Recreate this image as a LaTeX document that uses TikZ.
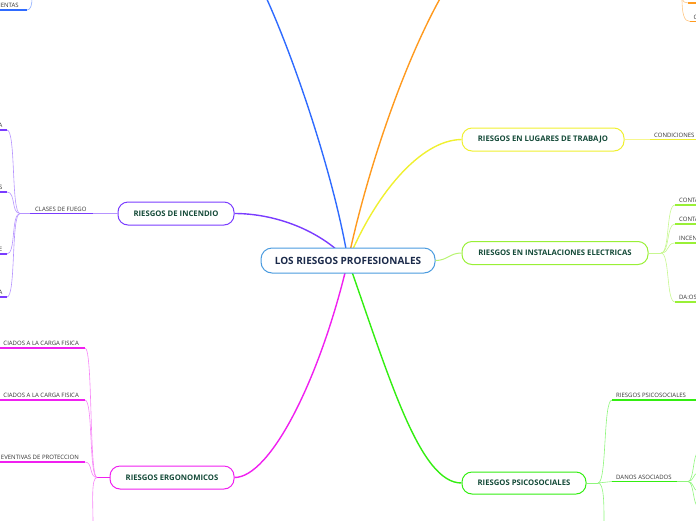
\documentclass[tikz,border=0pt]{standalone}
\usepackage{fontspec}
\setmainfont{Open Sans}
\usetikzlibrary{backgrounds}

\definecolor{navytext}{HTML}{1B2A4A}
\definecolor{branchtext}{HTML}{144A38}
\definecolor{labelgray}{HTML}{333333}
\definecolor{centerline}{HTML}{4A9BDF}
\definecolor{mmblue}{HTML}{2F6BFF}
\definecolor{mmorange}{HTML}{FF9A1F}
\definecolor{mmyellow}{HTML}{F0F030}
\definecolor{mmlime}{HTML}{99F036}
\definecolor{mmgreen}{HTML}{33EE11}
\definecolor{mmmagenta}{HTML}{F020F0}
\definecolor{mmpurple}{HTML}{7A3CFF}

\tikzset{
  mainbox/.style={draw=centerline, line width=1pt, fill=white, rounded corners=11pt,
    text=navytext, font=\bfseries\fontsize{10}{12}\selectfont, inner sep=0pt},
  branchbox/.style={draw=#1, line width=1pt, fill=white, rounded corners=10pt,
    text=branchtext, font=\bfseries\fontsize{7.7}{9}\selectfont, minimum height=23pt, inner sep=0pt},
  leaf/.style={text=labelgray, font=\fontsize{6}{7}\selectfont, inner sep=0pt},
  trunk/.style={draw=#1, line width=1.4pt},
  twig/.style={draw=#1!55, line width=0.6pt},
  underline/.style={draw=#1, line width=1.8pt},
}

\begin{document}
\begin{tikzpicture}[x=1pt,y=-1pt]
  \useasboundingbox (0,0) rectangle (696,520);
  \clip (0,0) rectangle (696,520);

  % Central topic
  \node[mainbox, minimum width=174pt, minimum height=25pt] (central) at (348,260.5) {LOS RIESGOS PROFESIONALES};

  % Main topics
  \node[branchbox=mmyellow, minimum width=162pt] (lugares) at (543,139.5) {RIESGOS EN LUGARES DE TRABAJO};
  \node[branchbox=mmlime, minimum width=186pt] (electricas) at (555,253) {RIESGOS EN INSTALACIONES ELECTRICAS};
  \node[branchbox=mmgreen, minimum width=124pt, minimum height=22pt] (psico) at (524,483) {RIESGOS PSICOSOCIALES};
  \node[branchbox=mmmagenta, minimum width=124pt] (ergo) at (172,477.5) {RIESGOS ERGONOMICOS};
  \node[branchbox=mmpurple, minimum width=116pt] (incendio) at (176,213.5) {RIESGOS DE INCENDIO};

  % Off-page ends
  \coordinate (blueend) at (265,-5);
  \coordinate (orangeend) at (442,-5);

  % Trunks from the central topic
  \begin{scope}[on background layer]
    \draw[trunk=mmblue] (central.center) .. controls (335,180) and (295,60) .. (blueend);
    \draw[trunk=mmorange] (central.center) .. controls (365,180) and (400,70) .. (orangeend);
    \draw[trunk=mmyellow] (central.center) .. controls (375,195) and (420,140) .. (lugares.west);
    \draw[trunk=mmgreen] (central.center) .. controls (390,380) and (420,483) .. (psico.west);
    \draw[trunk=mmmagenta] (central.center) .. controls (320,380) and (270,477.5) .. (ergo.east);
    \draw[trunk=mmpurple] (central.center) .. controls (320,230) and (275,213.5) .. (incendio.east);
  \end{scope}
  \draw[trunk=mmlime!70, line width=1pt] (central.east) .. controls +(12,0) and +(-12,0) .. (electricas.west);

  % Blue, top left
  \coordinate (bluetop) at (32,-2);
  \coordinate (blueleaf) at (27,10);
  \draw[twig=mmblue] (blueleaf) .. controls +(4,0) and +(0,6) .. (bluetop);
  \draw[underline=mmblue] (blueleaf) -- (-2,10);
  \node[leaf, anchor=south west] (ientas) at (-1,8) {IENTAS};

  % Orange, top right
  \coordinate (orangetop) at (682,-2);
  \coordinate (orleaf1) at (688,3);
  \coordinate (orleaf2) at (690,21.5);
  \draw[twig=mmorange] (orangetop) .. controls +(1,4) and +(-3,0) .. (orleaf1);
  \draw[twig=mmorange] (orangetop) .. controls +(0,16) and +(-6,0) .. (orleaf2);
  \draw[underline=mmorange] (orleaf1) -- (698,3);
  \draw[underline=mmorange] (orleaf2) -- (698,21.5);
  \node[leaf, anchor=south west] (orlabel) at (693.5,19.5) {C};

  % Lugares de trabajo
  \coordinate (lugleaf) at (650,139.5);
  \draw[twig=mmyellow] (lugares.east) -- (lugleaf);
  \draw[underline=mmyellow] (lugleaf) -- (698,139.5);
  \node[leaf, anchor=south west] (condiciones) at (654,137.5) {CONDICIONES};

  % Instalaciones electricas
  \coordinate (elecjn) at (661,253);
  \draw[twig=mmlime, line width=1pt] (electricas.east) -- (elecjn);
  \foreach \y/\t [count=\i] in {205/CONTA,224/CONTA,243/INCEN,302/DA:OS} {
    \coordinate (elec\i) at (675,\y);
    \draw[twig=mmlime] (elecjn) .. controls +(9,0) and +(-9,0) .. (elec\i);
    \draw[underline=mmlime] (elec\i) -- (698,\y);
    \node[leaf, anchor=south west] (eleclabel\i) at (679,\y-2) {\t};
  }

  % Psicosociales
  \coordinate (psicojn) at (598,483);
  \coordinate (psicoleaf1) at (612,400);
  \coordinate (psicoleaf2) at (612,481.5);
  \coordinate (psicobottom) at (604,523);
  \coordinate (danosjn) at (688,481.5);
  \draw[twig=mmgreen, line width=1pt] (psico.east) -- (psicojn);
  \draw[twig=mmgreen] (psicojn) .. controls +(9,0) and +(-9,0) .. (psicoleaf1);
  \draw[twig=mmgreen] (psicojn) .. controls +(7,0) and +(-7,0) .. (psicoleaf2);
  \draw[twig=mmgreen] (psicojn) .. controls +(6,0) and +(0,-20) .. (psicobottom);
  \draw[underline=mmgreen] (psicoleaf1) -- (698,400);
  \draw[underline=mmgreen] (psicoleaf2) -- (677,481.5);
  \draw[twig=mmgreen] (677,481.5) -- (danosjn);
  \node[leaf, anchor=south west] (psicolabel) at (616,398) {RIESGOS PSICOSOCIALES};
  \node[leaf, anchor=south west] (danos) at (616,479.5) {DANOS ASOCIADOS};
  \foreach \y [count=\i] in {453,473,491,506} {
    \coordinate (danos\i) at (698,\y);
    \draw[twig=mmgreen] (danosjn) .. controls +(6,0) and +(-5,0) .. (danos\i);
  }

  % Ergonomicos
  \coordinate (ergojn) at (97,477.5);
  \coordinate (ergobottom) at (93,523);
  \draw[underline=mmmagenta, line width=1.4pt] (ergo.west) -- (ergojn);
  \draw[twig=mmmagenta] (ergojn) .. controls +(-6,0) and +(0,-20) .. (ergobottom);
  \foreach \y/\t [count=\i] in {348/CIADOS A LA CARGA FISICA,400/CIADOS A LA CARGA FISICA,462/EVENTIVAS DE PROTECCION} {
    \coordinate (ergo\i) at (85,\y);
    \draw[twig=mmmagenta] (ergojn) .. controls +(-8,0) and +(8,0) .. (ergo\i);
    \draw[underline=mmmagenta] (ergo\i) -- (-2,\y);
    \node[leaf, anchor=south east] (ergolabel\i) at (79,\y-2) {\t};
  }

  % Incendio
  \coordinate (fuegoend) at (93,213.5);
  \coordinate (fuegostart) at (30,213.5);
  \coordinate (firejn) at (20,213.5);
  \draw[twig=mmpurple] (incendio.west) -- (fuegoend);
  \draw[underline=mmpurple] (fuegoend) -- (fuegostart);
  \draw[twig=mmpurple, line width=1pt] (fuegostart) -- (firejn);
  \node[leaf, anchor=south west] (fuego) at (35,211.5) {CLASES DE FUEGO};
  \foreach \y/\t [count=\i] in {130/A,192/S,254/E,297/A} {
    \coordinate (fire\i) at (7,\y);
    \draw[twig=mmpurple] (firejn) .. controls +(-9,0) and +(9,0) .. (fire\i);
    \draw[underline=mmpurple] (fire\i) -- (-2,\y);
    \node[leaf, anchor=south east] (firelabel\i) at (2.5,\y-2) {\t};
  }
\end{tikzpicture}
\end{document}
